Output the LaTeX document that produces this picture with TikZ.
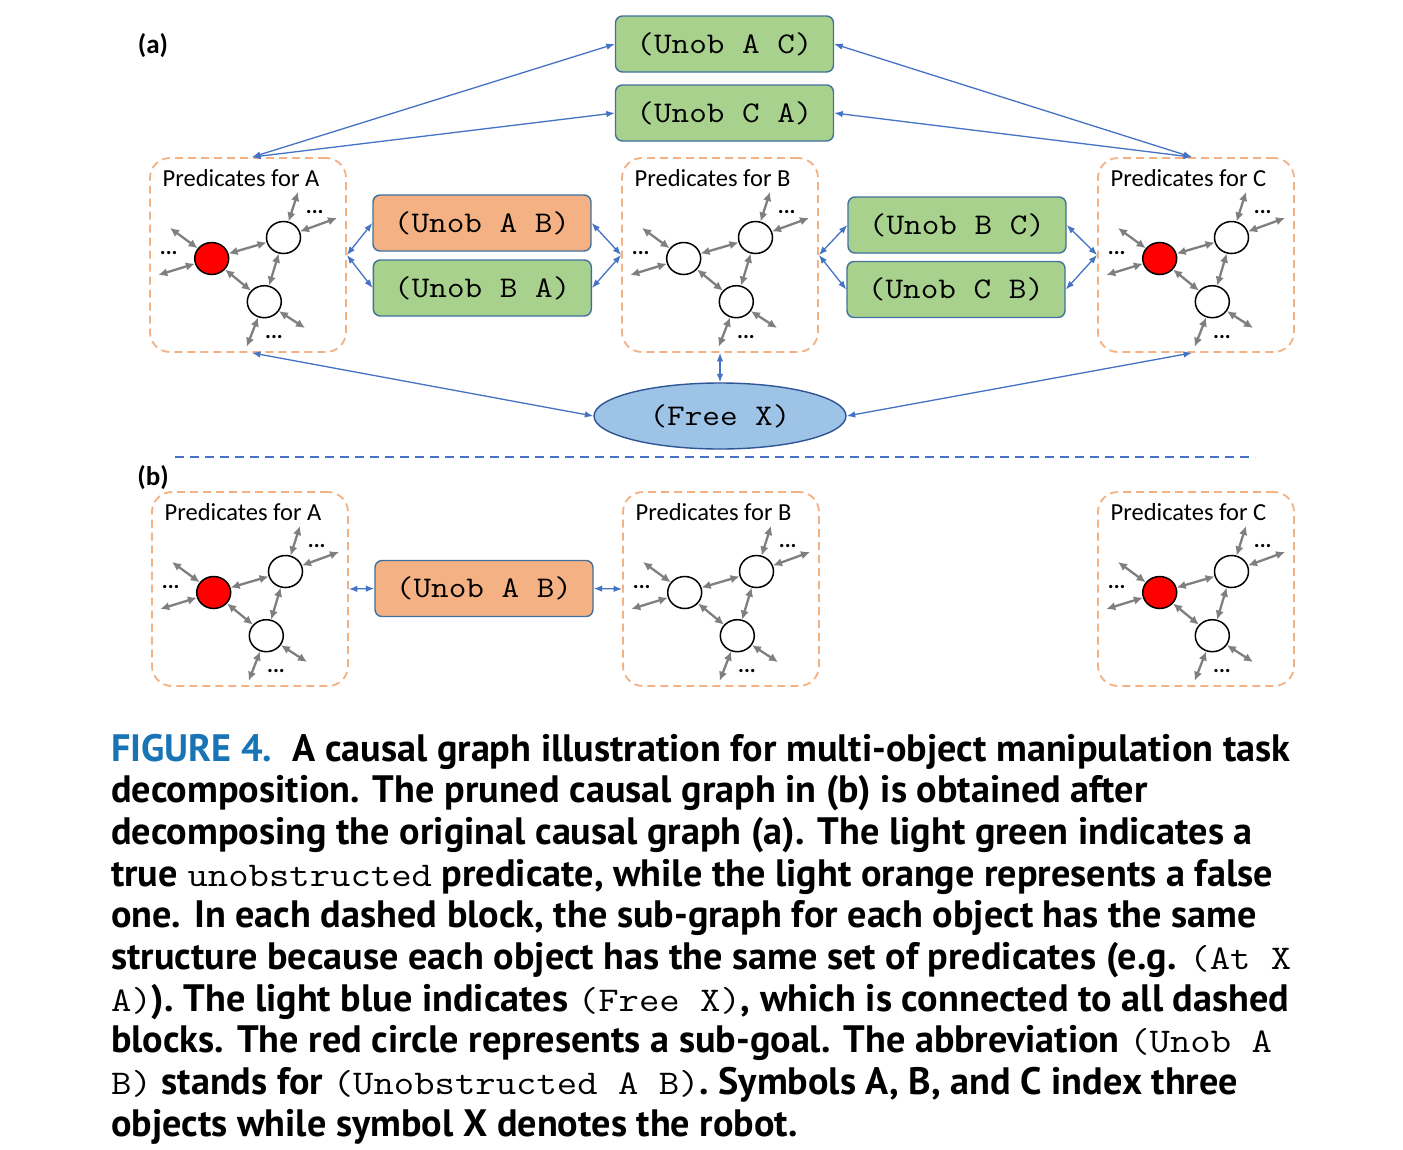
\documentclass[tikz,border=0pt]{standalone}
\usepackage{fontspec}
\setmainfont{Carlito}
\newfontfamily\capfont{PT Sans}
\newfontfamily\monofont{Latin Modern Mono}[FakeStretch=1.14]
\usetikzlibrary{shapes.geometric,arrows.meta,calc}
\definecolor{blockorange}{HTML}{F4B183}
\definecolor{boxgreen}{HTML}{A9D18E}
\definecolor{boxorange}{HTML}{F4B183}
\definecolor{boxline}{HTML}{41719C}
\definecolor{linkblue}{HTML}{4472C4}
\definecolor{freeblue}{HTML}{9DC3E6}
\definecolor{freeline}{HTML}{2F5597}
\definecolor{arrgray}{HTML}{7F7F7F}
\definecolor{figblue}{HTML}{1874B4}
\newcommand{\cmono}[1]{{\monofont\mdseries\fontsize{34.7}{40}\selectfont #1}}
\tikzset{
  blockbox/.style={draw=blockorange, line width=1.8pt, dash pattern=on 8pt off 5pt,
    rounded corners=20pt, minimum width=196pt, minimum height=194pt, inner sep=0pt},
  predlbl/.style={anchor=base west, inner sep=0pt, font=\fontsize{24.5}{27}\selectfont},
  dotslbl/.style={anchor=base, inner sep=0pt, font=\bfseries\fontsize{22}{24}\selectfont},
  subnode/.style={ellipse, draw=black, line width=1.5pt, fill=white, minimum width=34pt, minimum height=32pt, inner sep=0pt},
  grayarr/.style={draw=arrgray, line width=2.3pt, {Latex[length=9pt,width=8.5pt]}-{Latex[length=9pt,width=8.5pt]}},
  bluearr/.style={draw=linkblue, line width=1.3pt, {Latex[length=8.5pt,width=6.5pt]}-{Latex[length=8.5pt,width=6.5pt]}},
  predbox/.style={draw=boxline, line width=1.4pt, rounded corners=7pt, minimum width=218pt, minimum height=56pt, inner sep=0pt,
    font=\monofont\fontsize{30}{31}\selectfont},
  greenbox/.style={predbox, fill=boxgreen},
  orangebox/.style={predbox, fill=boxorange},
  capline/.style={anchor=base west, inner sep=0pt, font=\capfont\bfseries\fontsize{38.2}{44}\selectfont},
  panellbl/.style={inner sep=0pt, font=\bfseries\fontsize{27}{30}\selectfont},
  pics/predblock/.style n args={2}{code={
    \node[blockbox] (-box) at (98,97) {};
    \node[predlbl] (-lbl) at (12.5,28.5) {Predicates for #1};
    \node[subnode, fill=#2] (-n0) at (61.7,100.5) {};
    \node[subnode] (-n1) at (133.5,79.5) {};
    \node[subnode] (-n2) at (114.3,143.7) {};
    \coordinate (-e1) at (20,70);
    \coordinate (-e2) at (8.3,117);
    \coordinate (-e3) at (148,34);
    \coordinate (-e4) at (187,60);
    \coordinate (-e5) at (96.7,188.7);
    \coordinate (-e6) at (155,170);
    \node[dotslbl] (-d1) at (18.7,96) {...};
    \node[dotslbl] (-d2) at (164.7,55) {...};
    \node[dotslbl] (-d3) at (124,180) {...};
    \draw[grayarr] (-n0) -- (-n1);
    \draw[grayarr] (-n0) -- (-n2);
    \draw[grayarr] (-n1) -- (-n2);
    \draw[grayarr] (-n0) -- (-e1);
    \draw[grayarr] (-n0) -- (-e2);
    \draw[grayarr] (-n1) -- (-e3);
    \draw[grayarr] (-n1) -- (-e4);
    \draw[grayarr] (-n2) -- (-e5);
    \draw[grayarr] (-n2) -- (-e6);
  }}
}
\begin{document}
\begin{tikzpicture}[x=1pt,y=-1pt]
\useasboundingbox (0,0) rectangle (1403,1149);
\fill[white] (0,0) rectangle (1403,1149);

% ---------- panel (a)
\node[panellbl] (la) at (153,46) {(a)};
\pic (pA) at (150,158) {predblock={A}{red}};
\pic (pB) at (622,158) {predblock={B}{white}};
\pic (pC) at (1098,158) {predblock={C}{red}};

\node[greenbox] (ac) at (724.5,44) {(Unob A C)};
\node[greenbox] (ca) at (724.5,113) {(Unob C A)};
\node[orangebox] (ab) at (482,223) {(Unob A B)};
\node[greenbox] (ba) at (482.3,288) {(Unob B A)};
\node[greenbox] (bc) at (957,225) {(Unob B C)};
\node[greenbox] (cb) at (956,289.5) {(Unob C B)};
\node[ellipse, draw=freeline, line width=1.4pt, fill=freeblue, minimum width=252pt, minimum height=66pt,
  inner sep=0pt, font=\monofont\fontsize{30}{31}\selectfont] (fx) at (720,416) {(Free X)};

\draw[bluearr] ([xshift=4pt]pA-box.north) -- (ac.west);
\draw[bluearr] ([xshift=4pt]pA-box.north) -- (ca.west);
\draw[bluearr] ([xshift=-4pt]pC-box.north) -- (ac.east);
\draw[bluearr] ([xshift=-4pt]pC-box.north) -- (ca.east);
\draw[bluearr] (pA-box.east) -- (ab.west);
\draw[bluearr] (pA-box.east) -- (ba.west);
\draw[bluearr] (ab.east) -- (pB-box.west);
\draw[bluearr] (ba.east) -- (pB-box.west);
\draw[bluearr] (pB-box.east) -- (bc.west);
\draw[bluearr] (pB-box.east) -- (cb.west);
\draw[bluearr] (bc.east) -- (pC-box.west);
\draw[bluearr] (cb.east) -- (pC-box.west);
\draw[bluearr] ([xshift=4pt]pA-box.south) -- (fx.west);
\draw[bluearr] ([xshift=-4pt]pC-box.south) -- (fx.east);
\draw[bluearr] (pB-box.south) -- (fx.north);

% separator
\coordinate (sepL) at (175,457);
\coordinate (sepR) at (1255,457);
\draw[linkblue, line width=2pt, dash pattern=on 9pt off 6pt] (sepL) -- (sepR);

% ---------- panel (b)
\node[panellbl] (lb) at (153,478) {(b)};
\pic (qA) at (152,492) {predblock={A}{red}};
\pic (qB) at (623,492) {predblock={B}{white}};
\pic (qC) at (1098,492) {predblock={C}{red}};
\node[orangebox] (ab2) at (484,588.5) {(Unob A B)};
\draw[bluearr] (qA-box.east) -- (ab2.west);
\draw[bluearr] (ab2.east) -- (qB-box.west);

% ---------- caption
\node[capline] (c1) at (111,761) {{\color{figblue}FIGURE 4.}\hspace{20pt}A causal graph illustration for multi-object manipulation task};
\node[capline] (c2) at (111,802.7) {decomposition. The pruned causal graph in (b) is obtained after};
\node[capline] (c3) at (111,844.4) {decomposing the original causal graph (a). The light green indicates a};
\node[capline] (c4) at (111,886.1) {true \cmono{unobstructed} predicate, while the light orange represents a false};
\node[capline] (c5) at (111,927.8) {one. In each dashed block, the sub-graph for each object has the same};
\node[capline] (c6) at (111,969.5) {structure because each object has the same set of predicates (e.g. \cmono{(At X}};
\node[capline] (c7) at (111,1011.2) {\cmono{A)}). The light blue indicates \cmono{(Free X)}, which is connected to all dashed};
\node[capline] (c8) at (111,1052.9) {blocks. The red circle represents a sub-goal. The abbreviation \cmono{(Unob A}};
\node[capline] (c9) at (111,1094.6) {\cmono{B)} stands for \cmono{(Unobstructed A B)}. Symbols A, B, and C index three};
\node[capline] (c10) at (111,1136.3) {objects while symbol X denotes the robot.};
\end{tikzpicture}
\end{document}
